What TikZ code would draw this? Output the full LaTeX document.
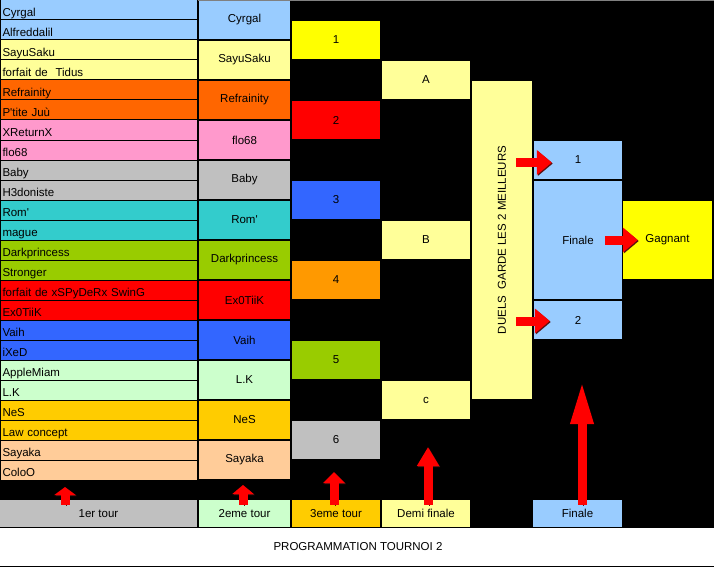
\documentclass[tikz,border=0pt]{standalone}
\usepackage{fontspec}
\setmainfont{Liberation Sans}
\usetikzlibrary{calc}
\usetikzlibrary{positioning}
\usetikzlibrary{arrows.meta}
\definecolor{lblue}{HTML}{99CCFF}
\definecolor{lyellow}{HTML}{FFFF99}
\definecolor{orangeA}{HTML}{FF6600}
\definecolor{orangeB}{HTML}{FF9900}
\definecolor{pinkA}{HTML}{FF99CC}
\definecolor{grayA}{HTML}{C0C0C0}
\definecolor{tealA}{HTML}{33CCCC}
\definecolor{limeA}{HTML}{99CC00}
\definecolor{redA}{HTML}{FF0000}
\definecolor{blueA}{HTML}{3366FF}
\definecolor{lgreen}{HTML}{CCFFCC}
\definecolor{goldA}{HTML}{FFCC00}
\definecolor{tanA}{HTML}{FFCC99}
\definecolor{yellowA}{HTML}{FFFF00}
\definecolor{shade}{HTML}{5A1010}

\begin{document}
\begin{tikzpicture}[x=1pt,y=-1pt,font=\fontsize{11.5}{13}\selectfont,
  player/.style={draw=black,line width=1pt,fill=#1,anchor=west,minimum height=20pt,text width=193pt,
    text height=13.5pt,text depth=0.5pt,inner sep=2pt,align=left},
  round2/.style={fill=#1,minimum width=91pt,minimum height=38pt,inner sep=0pt},
  round3/.style={fill=#1,minimum width=88pt,minimum height=38pt,inner sep=0pt},
  semi/.style={fill=lyellow,minimum width=88pt,minimum height=38pt,inner sep=0pt},
  final/.style={fill=lblue,minimum width=88pt,minimum height=#1,inner sep=0pt},
  tour/.style={fill=#1,minimum height=27pt,inner sep=0pt},
  uparrow/.style={redA,line width=9pt,shorten <=-5pt,-{Triangle[width=21pt,length=#1]},
    preaction={draw=shade,transform canvas={shift={(1pt,-1pt)}}}},
  rightarrow/.style={redA,line width=9pt,-{Triangle[width=24pt,length=15pt]},
    preaction={draw=shade,transform canvas={shift={(1pt,-1pt)}}}}]

\useasboundingbox (0,0) rectangle (714,567);
\fill [black] (0,0) rectangle (714,528);
\fill [white] (0,528) rectangle (714,566);
\fill [black] (0,566) rectangle (714,567);
\draw [gray,line width=1pt] (0,0.5) -- (714,0.5);

\node [player=lblue] (p1) at (0,10) {Cyrgal};
\node [player=lblue] (p2) at (0,30) {Alfreddalil};
\node [player=lyellow] (p3) at (0,50) {SayuSaku};
\node [player=lyellow] (p4) at (0,70) {forfait de~ Tidus};
\node [player=orangeA] (p5) at (0,90) {Refrainity};
\node [player=orangeA] (p6) at (0,110) {P\textquotesingle tite Juù};
\node [player=pinkA] (p7) at (0,130) {XReturnX};
\node [player=pinkA] (p8) at (0,150) {flo68};
\node [player=grayA] (p9) at (0,170) {Baby};
\node [player=grayA] (p10) at (0,190) {H3doniste};
\node [player=tealA] (p11) at (0,210) {Rom\textquotesingle};
\node [player=tealA] (p12) at (0,230) {mague};
\node [player=limeA] (p13) at (0,250) {Darkprincess};
\node [player=limeA] (p14) at (0,270) {Stronger};
\node [player=redA] (p15) at (0,290) {forfait de xSPyDeRx SwinG};
\node [player=redA] (p16) at (0,310) {Ex0TiiK};
\node [player=blueA] (p17) at (0,330) {Vaih};
\node [player=blueA] (p18) at (0,350) {iXeD};
\node [player=lgreen] (p19) at (0,370) {AppleMiam};
\node [player=lgreen] (p20) at (0,390) {L.K};
\node [player=goldA] (p21) at (0,410) {NeS};
\node [player=goldA] (p22) at (0,430) {Law concept};
\node [player=tanA] (p23) at (0,450) {Sayaka};
\node [player=tanA] (p24) at (0,470) {ColoO};

\node [round2=lblue] (w1) at (244.5,20) {Cyrgal};
\node [round2=lyellow] (w2) at (244.5,60) {SayuSaku};
\node [round2=orangeA] (w3) at (244.5,100) {Refrainity};
\node [round2=pinkA] (w4) at (244.5,140) {flo68};
\node [round2=grayA] (w5) at (244.5,180) {Baby};
\node [round2=tealA] (w6) at (244.5,220) {Rom\textquotesingle};
\node [round2=limeA] (w7) at (244.5,260) {Darkprincess};
\node [round2=redA] (w8) at (244.5,300) {Ex0TiiK};
\node [round2=blueA] (w9) at (244.5,340) {Vaih};
\node [round2=lgreen] (w10) at (244.5,380) {L.K};
\node [round2=goldA] (w11) at (244.5,420) {NeS};
\node [round2=tanA] (w12) at (244.5,460) {Sayaka};

\node [round3=yellowA] (g1) at (336,40) {1};
\node [round3=redA] (g2) at (336,120) {2};
\node [round3=blueA] (g3) at (336,200) {3};
\node [round3=orangeB] (g4) at (336,280) {4};
\node [round3=limeA] (g5) at (336,360) {5};
\node [round3=grayA] (g6) at (336,440) {6};

\node [semi] (sA) at (426,80) {A};
\node [semi] (sB) at (426,240) {B};
\node [semi] (sC) at (426,400) {c};

\node [fill=lyellow,minimum width=60pt,minimum height=318pt,inner sep=0pt] (duels) at (502,240) {};
\node [rotate=90] (duelstext) at (duels.center) {DUELS~ GARDE LES 2 MEILLEURS};

\node [final=38pt] (one) at (578,160) {1};
\node [final=118pt] (finale) at (578,240) {Finale};
\node [final=38pt] (two) at (578,320) {2};
\node [fill=yellowA,minimum width=89pt,minimum height=78pt,inner sep=0pt] (gagnant) at (667.5,240) {Gagnant};

\node [tour=grayA,minimum width=197pt] (lab1) at (98.5,513.5) {1er tour};
\node [tour=lgreen,minimum width=91pt] (lab2) at (244.5,513.5) {2eme tour};
\node [tour=goldA,minimum width=88pt] (lab3) at (336,513.5) {3eme tour};
\node [tour=lyellow,minimum width=88pt] (lab4) at (426,513.5) {Demi finale};
\node [tour=lblue,minimum width=89pt] (lab5) at (577.5,513.5) {Finale};

\node (title) at (358,547) {PROGRAMMATION TOURNOI 2};

\coordinate (up1) at (65,487);
\coordinate (up2) at (243,485);
\coordinate (up3) at (334,472);
\coordinate (up4) at (428,447);
\coordinate (up5) at (582,381);

\draw [uparrow=8pt] (lab1.north -| up1) -- (up1);
\draw [uparrow=9pt] (lab2.north -| up2) -- (up2);
\draw [uparrow=11pt] (lab3.north -| up3) -- (up3);
\draw [uparrow=19pt] (lab4.north -| up4) -- (up4);
\draw [uparrow=43pt] (lab5.north -| up5) -- (up5);

\draw [rightarrow] ($(duels.east |- one.west)+(-16,2.5)$) -- ($(one.west)+(18,2.5)$);
\draw [rightarrow] ($(duels.east |- two.west)+(-16,1)$) -- ($(two.west)+(16,1)$);
\draw [rightarrow] ($(finale.east)+(-17,0)$) -- ($(gagnant.west)+(15,0)$);

\end{tikzpicture}
\end{document}
